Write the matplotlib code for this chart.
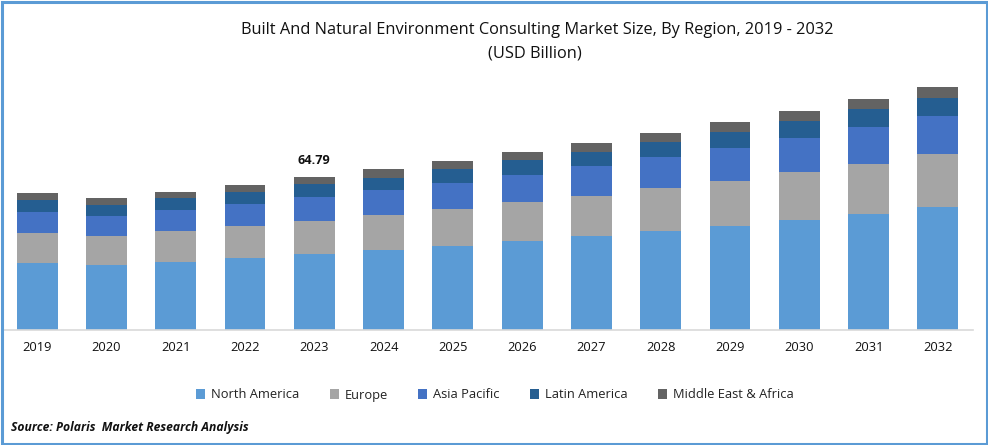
import matplotlib
matplotlib.use("Agg")
import matplotlib.pyplot as plt
from matplotlib.patches import Rectangle

years = [2019, 2020, 2021, 2022, 2023, 2024, 2025, 2026, 2027, 2028, 2029, 2030, 2031, 2032]
north_america = [28.37, 27.53, 28.80, 30.49, 32.18, 33.88, 35.57, 37.69, 39.81, 41.93, 44.04, 46.59, 49.13, 52.09]
europe = [12.70, 12.28, 13.13, 13.55, 13.98, 14.82, 15.67, 16.52, 16.94, 18.21, 19.06, 20.33, 21.18, 22.45]
asia_pacific = [8.89, 8.47, 8.89, 9.32, 10.16, 10.59, 11.01, 11.43, 12.70, 13.13, 13.98, 14.40, 15.67, 16.09]
latin_america = [5.08, 4.66, 5.08, 5.08, 5.51, 5.08, 5.93, 6.35, 5.93, 6.35, 6.78, 7.20, 7.62, 7.62]
mea = [2.96, 2.96, 2.54, 2.96, 2.96, 3.81, 3.39, 3.39, 3.81, 3.81, 4.24, 4.24, 4.24, 4.66]
series_names = ["North America", "Europe", "Asia Pacific", "Latin America", "Middle East & Africa"]
colors = ["#5B9BD5", "#A5A5A5", "#4472C4", "#255E91", "#636363"]
title_lines = ["Built And Natural Environment Consulting Market Size, By Region, 2019 - 2032", "(USD Billion)"]
source = "Source: Polaris  Market Research Analysis"
callout_year = 2023
callout_text = "64.79"

W, H = 988, 445
plt.rcParams["font.family"] = ["Open Sans", "DejaVu Sans"]
fig = plt.figure(figsize=(W / 100, H / 100), dpi=100, facecolor="white")
ax = fig.add_axes([2.5 / W, (H - 330) / H, 970 / W, 270 / H])

x = list(range(len(years)))
bottom = [0.0] * len(years)
handles = []
for name, vals, c in zip(series_names, [north_america, europe, asia_pacific, latin_america, mea], colors):
    b = ax.bar(x, vals, width=0.59, bottom=bottom, color=c, linewidth=0, label=name)
    handles.append(b)
    bottom = [p + q for p, q in zip(bottom, vals)]

ax.set_xlim(-0.5, 13.5)
ax.set_ylim(0, 270 * 0.4235)
ax.set_xticks(x, [str(y) for y in years])
ax.tick_params(axis="x", length=0, pad=8, labelsize=9.3, labelcolor="#111111")
ax.set_yticks([])
for s in ["top", "left", "right"]:
    ax.spines[s].set_visible(False)
ax.spines["bottom"].set_color("#D9D9D9")
ax.spines["bottom"].set_linewidth(1.2)
ax.patch.set_alpha(0)

i = years.index(callout_year)
ax.annotate(callout_text, (x[i], bottom[i]), xytext=(0, 7), textcoords="offset points",
            ha="center", va="bottom", fontsize=9.2, fontweight="bold", color="#111111")

fig.text(537 / W, 1 - 30 / H, title_lines[0], ha="center", va="center", fontsize=11.75, color="#111111")
fig.text(535 / W, 1 - 53 / H, title_lines[1], ha="center", va="center", fontsize=11.75, color="#111111")

fig.legend(handles=handles, loc="center", bbox_to_anchor=(495 / W, 1 - 395 / H), ncol=5, frameon=False,
           fontsize=9.3, handlelength=0.7, handleheight=0.7, handletextpad=0.45, columnspacing=2.37,
           labelcolor="#222222")

fig.text(11 / W, 1 - 427 / H, source, ha="left", va="center", fontsize=8.75, fontweight="bold",
         fontstyle="italic", color="#111111")

fig.add_artist(Rectangle((1.5 / W, 1.5 / H), (W - 3) / W, (H - 3) / H, transform=fig.transFigure,
                         fill=False, edgecolor="#5B9BD5", linewidth=2.2))
fig.savefig("out.png", dpi=100, facecolor="white")
